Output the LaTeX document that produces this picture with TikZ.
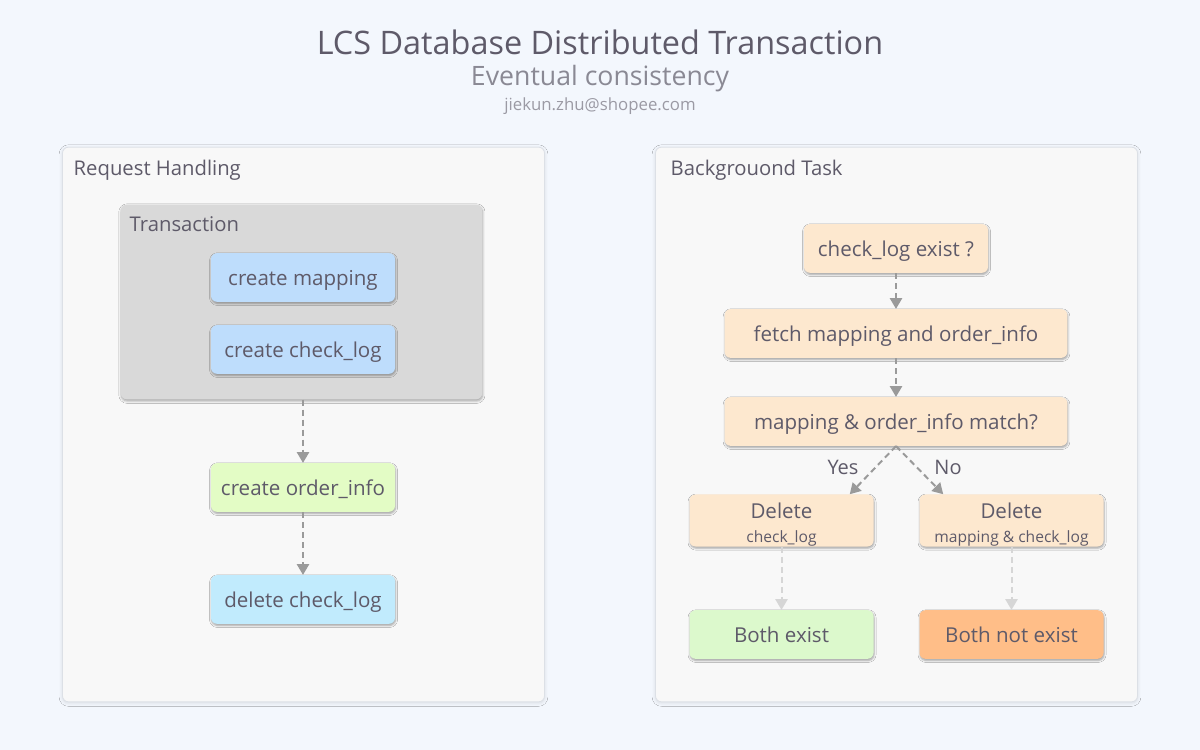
\documentclass[tikz,border=0pt]{standalone}
\usepackage{fontspec}
\setmainfont{Open Sans}
\usetikzlibrary{arrows.meta,shadows.blur,calc}
\definecolor{bg}{HTML}{F3F7FD}
\definecolor{panelfill}{HTML}{F8F8F8}
\definecolor{panelborder}{HTML}{DCE0E6}
\definecolor{transfill}{HTML}{D9D9D9}
\definecolor{txt}{HTML}{5E5A69}
\definecolor{subtxt}{HTML}{8A8994}
\definecolor{mailtxt}{HTML}{9B9AA4}
\definecolor{cblue}{HTML}{BEDDFC}
\definecolor{cgreen}{HTML}{E3FCC5}
\definecolor{ccyan}{HTML}{C1EBFD}
\definecolor{cpeach}{HTML}{FDE8CF}
\definecolor{cgreenb}{HTML}{DCF9CC}
\definecolor{corange}{HTML}{FFBE88}
\definecolor{arrowc}{HTML}{9A9A9A}
\definecolor{arrowl}{HTML}{D6D6D6}
\begin{document}
\begin{tikzpicture}[x=0.75pt,y=-0.75pt, text=txt,
  every node/.style={font=\fontsize{15.4}{18}\selectfont},
  panel/.style={draw=panelborder, line width=0.6pt, fill=panelfill, rounded corners=4.5pt,
    blur shadow={shadow xshift=0pt, shadow yshift=-0.8pt, shadow opacity=12, shadow blur radius=2.5pt}},
  trans/.style={fill=transfill, rounded corners=4.5pt,
    blur shadow={shadow xshift=0.3pt, shadow yshift=-1.2pt, shadow opacity=35, shadow blur radius=1.8pt}},
  box/.style={rounded corners=4.5pt, minimum width=138pt, minimum height=36.5pt, inner sep=0pt,
    blur shadow={shadow xshift=0.4pt, shadow yshift=-1.2pt, shadow opacity=35, shadow blur radius=1.5pt}},
  sbox/.style={box, text height=14.1pt, text depth=1.5pt},
  dbox/.style={box, align=center, text height=36.2pt},
  wbox/.style={sbox, minimum width=257pt},
  paneltitle/.style={anchor=west, font=\fontsize{15.2}{18}\selectfont},
  flow/.style={draw=arrowc, line width=1.5pt, dash pattern=on 4.5pt off 3pt,
    -{Triangle[width=9pt,length=8pt]}},
  flowl/.style={flow, draw=arrowl},
  lab/.style={font=\fontsize{15}{18}\selectfont}]
\useasboundingbox (0,0) rectangle (1200,750);
\fill[bg] (0,0) rectangle (1200,750);

% titles
\node (title) at (600,42.5) {\fontsize{24.3}{28}\selectfont LCS Database Distributed Transaction};
\node[text=subtxt] (subtitle) at (600,78.5) {\fontsize{20}{24}\selectfont Eventual consistency};
\node[text=mailtxt] (mail) at (600,106) {\fontsize{12.6}{15}\selectfont jiekun.zhu@shopee.com};

% panels
\node[panel, minimum width=361.5pt, minimum height=416pt] (lp) at (303.5,424.5) {};
\node[paneltitle] (lpt) at (69,170.5) {Request Handling};
\node[panel, minimum width=361.5pt, minimum height=416pt] (rp) at (896.5,424.5) {};
\node[paneltitle] (rpt) at (666,170.5) {Backgrouond Task};

% left
\node[trans, minimum width=271pt, minimum height=146pt] (tr) at (301.5,302) {};
\node[paneltitle] (trt) at (125,224.5) {Transaction};
\node[sbox, fill=cblue] (cm) at (303,277.5) {create mapping};
\node[sbox, fill=cblue] (ccl) at (303,349.5) {create check\_log};
\node[sbox, fill=cgreen] (coi) at (303,487.5) {create order\_info};
\node[sbox, fill=ccyan] (dcl) at (303,599.5) {delete check\_log};
\draw[flow] (tr.south -| coi.north) -- (coi.north);
\draw[flow] (coi.south) -- (dcl.north);

% right
\node[sbox, fill=cpeach] (cle) at (896,248.5) {check\_log exist ?};
\node[wbox, fill=cpeach] (fetch) at (896,333.5) {fetch mapping and order\_info};
\node[wbox, fill=cpeach] (match) at (896,421.5) {mapping \& order\_info match?};
\node[dbox, fill=cpeach] (d1) at (781.5,520.5)
  {\raisebox{-1pt}{Delete}\\[1.5pt]{\fontsize{11.7}{13}\selectfont check\_log}};
\node[dbox, fill=cpeach] (d2) at (1011.5,520.5)
  {\raisebox{-1pt}{Delete}\\[1.5pt]{\fontsize{11.7}{13}\selectfont mapping \& check\_log}};
\node[sbox, fill=cgreenb] (be) at (781.5,634.5) {Both exist};
\node[sbox, fill=corange] (bne) at (1011.5,634.5) {Both not exist};

\draw[flow] (cle.south) -- (fetch.north);
\draw[flow] (fetch.south) -- (match.north);
\draw[flow] (match.south) -- ([xshift=-18pt]d1.north east);
\draw[flow] (match.south) -- ([xshift=18pt]d2.north west);
\node[lab] (yes) at (843,467) {Yes};
\node[lab] (no) at (948,467) {No};
\draw[flowl] (d1.south) -- (be.north);
\draw[flowl] (d2.south) -- (bne.north);
\end{tikzpicture}
\end{document}
